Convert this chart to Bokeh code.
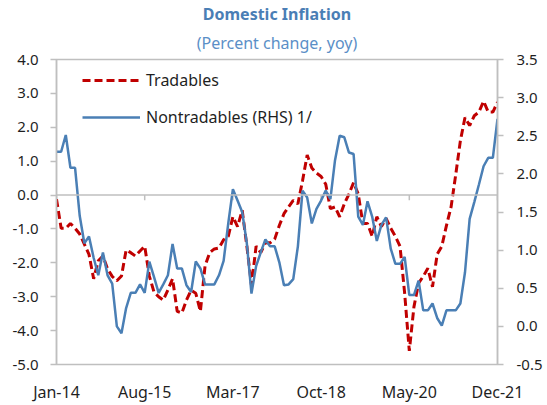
from bokeh.plotting import figure
from bokeh.models import (Range1d, LinearAxis, FixedTicker, Span, Title, Legend,
                          LegendItem, ColumnDataSource, NumeralTickFormatter)
from bokeh.embed import file_html
from bokeh.resources import INLINE

# ---- data (monthly, Jan-14 .. Dec-21) ----
tradables = [-0.12, -0.98, -0.98, -0.84, -0.98, -1.15, -1.45, -1.75, -2.47, -1.94,
             -1.80, -2.18, -2.40, -2.53, -2.39, -1.62, -1.70, -1.80, -1.65, -1.51,
             -2.39, -2.86, -3.00, -3.10, -2.80, -2.47, -3.43, -3.48, -3.10, -2.81,
             -2.90, -3.43, -2.09, -1.70, -1.59, -1.56, -1.32, -1.22, -0.64, -0.93,
             -0.45, -1.50, -2.66, -1.51, -1.70, -1.41, -1.41, -1.30, -0.90, -0.55,
             -0.35, -0.16, -0.26, 0.42, 1.18, 0.80, 0.65, 0.55, 0.32, -0.40,
             -0.35, -0.64, -0.26, 0.03, 0.37, 0.03, -0.84, -0.84, -1.22, -0.64,
             -0.93, -0.69, -0.98, -1.22, -1.51, -2.90, -4.60, -3.30, -2.60, -2.40,
             -2.16, -2.71, -1.75, -1.51, -0.90, -0.35, 0.60, 1.60, 2.29, 2.05,
             2.34, 2.45, 2.77, 2.45, 2.45, 2.74]
nontradables = [2.29, 2.29, 2.51, 2.08, 2.08, 1.45, 1.09, 1.18, 0.90, 0.67,
                0.97, 0.67, 0.56, 0.00, -0.09, 0.24, 0.44, 0.44, 0.55, 0.44,
                0.85, 0.65, 0.44, 0.55, 0.67, 1.08, 0.76, 0.76, 0.54, 0.45,
                0.85, 0.76, 0.55, 0.55, 0.55, 0.67, 0.86, 1.35, 1.80, 1.65,
                1.50, 1.09, 0.43, 0.79, 0.97, 1.14, 1.05, 1.05, 0.84, 0.54,
                0.55, 0.62, 1.05, 1.78, 1.69, 1.35, 1.54, 1.65, 1.78, 1.67,
                2.18, 2.50, 2.48, 2.28, 2.26, 1.44, 1.33, 1.64, 1.44, 1.12,
                1.33, 1.43, 1.02, 0.82, 0.82, 0.91, 0.41, 0.41, 0.60, 0.21,
                0.21, 0.30, 0.11, 0.01, 0.21, 0.21, 0.21, 0.30, 0.71, 1.41,
                1.63, 1.86, 2.10, 2.21, 2.21, 2.72]
months = list(range(len(tradables)))
tick_idx = [0, 19, 38, 57, 76, 95]
tick_labels = ["Jan-14", "Aug-15", "Mar-17", "Oct-18", "May-20", "Dec-21"]
left_ticks = [-5, -4, -3, -2, -1, 0, 1, 2, 3, 4]
right_ticks = [-0.5, 0.0, 0.5, 1.0, 1.5, 2.0, 2.5, 3.0, 3.5]

FONT = "Noto Sans"
GRAY = "#bfbfbf"
TXT = "#1f1f1f"
RED = "#c00000"
BLUE = "#4a7fb5"

p = figure(width=547, height=405, output_backend="svg", toolbar_location=None,
           x_range=Range1d(0, len(tradables) - 1), y_range=Range1d(-5, 4),
           min_border_left=56, min_border_right=50, min_border_top=59,
           min_border_bottom=34)
p.extra_y_ranges = {"right": Range1d(-0.5, 3.5)}
p.background_fill_color = "white"
p.border_fill_color = "white"
p.outline_line_color = GRAY
p.outline_line_width = 1.5
p.xgrid.visible = False
p.ygrid.visible = False

# titles (subtitle first -> closest to frame)
p.add_layout(Title(text="(Percent change, yoy)", align="center", text_font=FONT,
                   text_font_size="16px", text_font_style="normal",
                   text_color="#5b8fc7", standoff=12), "above")
p.add_layout(Title(text="Domestic Inflation", align="center", text_font=FONT,
                   text_font_size="16px", text_font_style="bold",
                   text_color="#4a7eb5", standoff=-3), "above")

# left axis
ya = p.yaxis[0]
ya.ticker = FixedTicker(ticks=left_ticks)
ya.formatter = NumeralTickFormatter(format="0.0")
ya.axis_line_color = GRAY
ya.axis_line_width = 1.5
ya.major_tick_line_color = GRAY
ya.major_tick_line_width = 1.5
ya.major_tick_in = 0
ya.major_tick_out = 6
ya.minor_tick_line_color = None
ya.major_label_text_font = FONT
ya.major_label_text_font_size = "15px"
ya.major_label_text_color = TXT
ya.major_label_standoff = 12

# right axis
ra = LinearAxis(y_range_name="right", ticker=FixedTicker(ticks=right_ticks),
                formatter=NumeralTickFormatter(format="0.0"))
ra.axis_line_color = GRAY
ra.axis_line_width = 1.5
ra.major_tick_line_color = GRAY
ra.major_tick_line_width = 1.5
ra.major_tick_in = 0
ra.major_tick_out = 6
ra.minor_tick_line_color = None
ra.major_label_text_font = FONT
ra.major_label_text_font_size = "15px"
ra.major_label_text_color = TXT
ra.major_label_standoff = 13
p.add_layout(ra, "right")

# bottom axis: labels only
xa = p.xaxis[0]
xa.ticker = FixedTicker(ticks=tick_idx)
xa.major_label_overrides = {i: s for i, s in zip(tick_idx, tick_labels)}
xa.axis_line_color = None
xa.major_tick_line_color = None
xa.major_tick_out = 0
xa.major_tick_in = 0
xa.minor_tick_line_color = None
xa.major_label_text_font = FONT
xa.major_label_text_font_size = "16px"
xa.major_label_text_color = TXT
xa.major_label_standoff = 16

# zero line with small tick marks
p.add_layout(Span(location=0, dimension="width", line_color=GRAY, line_width=1.5))
p.segment(x0=tick_idx, x1=tick_idx, y0=[0] * len(tick_idx), y1=[-0.15] * len(tick_idx),
          line_color=GRAY, line_width=1.5)

src = ColumnDataSource(dict(m=months, t=tradables, n=nontradables))
r_t = p.line("m", "t", source=src, line_color=RED, line_width=3, line_dash="8 4")
r_n = p.line("m", "n", source=src, line_color=BLUE, line_width=2.5,
             y_range_name="right")

legend = Legend(items=[LegendItem(label="Tradables", renderers=[r_t]),
                       LegendItem(label="Nontradables (RHS) 1/", renderers=[r_n])],
                location=(26, 236), padding=0, margin=0, spacing=15,
                glyph_width=58, glyph_height=20, label_height=20,
                label_standoff=6, border_line_color=None,
                background_fill_alpha=0, label_text_font=FONT,
                label_text_font_size="16px", label_text_color=TXT)
p.add_layout(legend, "center")

open("out.html", "w").write(file_html(p, INLINE))
